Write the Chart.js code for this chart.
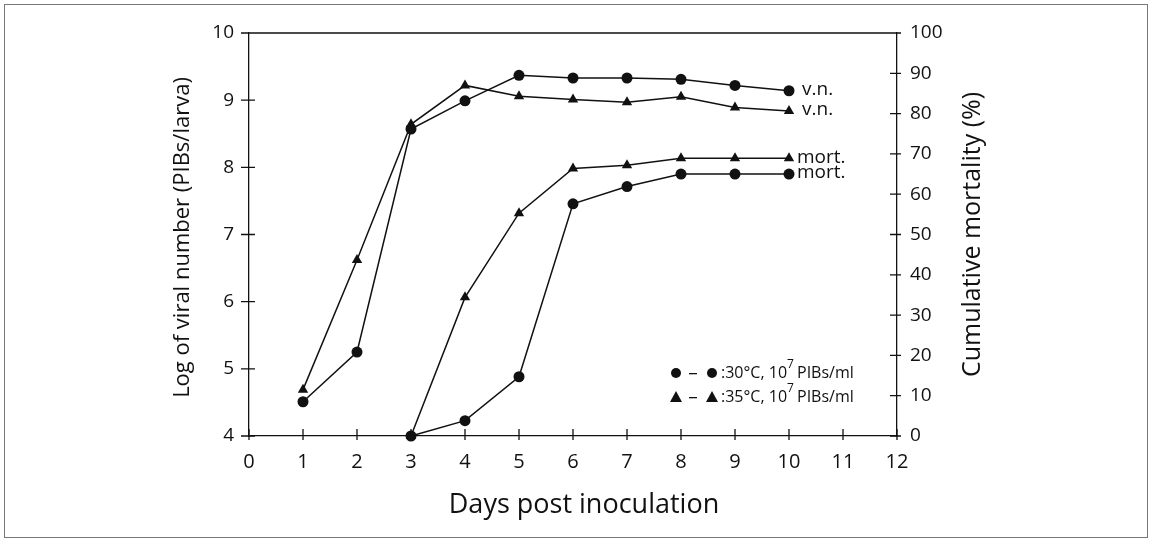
<!DOCTYPE html>
<html>
<head>
<meta charset="utf-8">
<script src="https://cdn.jsdelivr.net/npm/chart.js@4.4.0/dist/chart.umd.min.js"></script>
<style>
    body { margin: 0; background: #fff; }
    #wrap { position: relative; width: 1153px; height: 543px; }
    #frame { position: absolute; left: 4px; top: 4px; width: 1144px; height: 534px; border: 1px solid #777; box-sizing: border-box; pointer-events: none; }
</style>
</head>
<body>
<div id="wrap"><canvas id="chart"></canvas><div id="frame"></div></div>
<script>
// days post inoculation
const days = [1, 2, 3, 4, 5, 6, 7, 8, 9, 10];
const mortDays = [3, 4, 5, 6, 7, 8, 9, 10];

// log of viral number (left axis)
const vn30 = [4.51, 5.25, 8.57, 8.99, 9.37, 9.33, 9.33, 9.31, 9.22, 9.14];
const vn35 = [4.69, 6.62, 8.64, 9.22, 9.06, 9.01, 8.97, 9.05, 8.89, 8.84];

// cumulative mortality % (right axis)
const mort30 = [0, 3.8, 14.7, 57.6, 61.9, 65, 65, 65];
const mort35 = [0, 34.4, 55.3, 66.4, 67.2, 68.9, 68.9, 68.9];

const xTicks = [0, 1, 2, 3, 4, 5, 6, 7, 8, 9, 10, 11, 12];
const FONT = "'Open Sans', 'DejaVu Sans', sans-serif";

const toPoints = (xs, ys) => xs.map((x, i) => ({ x: x, y: ys[i] }));

function series(label, xs, ys, axis, style) {
    return {
        label: label,
        data: toPoints(xs, ys),
        yAxisID: axis,
        borderColor: '#111',
        backgroundColor: '#111',
        borderWidth: 1.5,
        pointStyle: style,
        pointRadius: style === 'triangle' ? 6 : 5.5,
        pointBorderWidth: 0,
        tension: 0,
        clip: false
    };
}

// crossing tick marks, frame top line, titles, end labels and the key
const decor = {
    id: 'decor',
    afterDraw(chart) {
        const ctx = chart.ctx;
        const a = chart.chartArea;
        const x = chart.scales.x, y = chart.scales.y, y2 = chart.scales.y2;
        ctx.save();
        ctx.strokeStyle = '#111';
        ctx.lineWidth = 1.3;
        ctx.beginPath();
        ctx.moveTo(a.left, a.top);
        ctx.lineTo(a.right, a.top);
        xTicks.forEach(v => {
            const px = x.getPixelForValue(v);
            ctx.moveTo(px, a.bottom - 7);
            ctx.lineTo(px, a.bottom + 4);
        });
        for (let v = 4; v <= 10; v++) {
            const py = y.getPixelForValue(v);
            ctx.moveTo(a.left - 8, py);
            ctx.lineTo(a.left + 6, py);
        }
        for (let v = 0; v <= 100; v += 10) {
            const py = y2.getPixelForValue(v);
            ctx.moveTo(a.right - 7, py);
            ctx.lineTo(a.right + 4, py);
        }
        ctx.stroke();

        ctx.fillStyle = '#111';
        ctx.textBaseline = 'middle';

        // axis titles
        ctx.textAlign = 'center';
        ctx.font = '27px ' + FONT;
        ctx.fillText('Days post inoculation', (a.left + a.right) / 2 + 11, 505);
        ctx.font = '22px ' + FONT;
        ctx.save();
        ctx.translate(a.left - 66, (a.top + a.bottom) / 2 + 3);
        ctx.rotate(-Math.PI / 2);
        ctx.fillText('Log of viral number (PIBs/larva)', 0, 0);
        ctx.restore();
        ctx.font = '25px ' + FONT;
        ctx.save();
        ctx.translate(a.right + 76, (a.top + a.bottom) / 2);
        ctx.rotate(-Math.PI / 2);
        ctx.fillText('Cumulative mortality (%)', 0, 0);
        ctx.restore();

        // end-of-line labels
        ctx.font = '19px ' + FONT;
        ctx.textAlign = 'left';
        const last = days.length - 1, lastM = mortDays.length - 1;
        const xe = x.getPixelForValue(10);
        ctx.fillText('v.n.', xe + 13, y.getPixelForValue(vn30[last]) - 1);
        ctx.fillText('v.n.', xe + 13, y.getPixelForValue(vn35[last]) - 1);
        ctx.fillText('mort.', xe + 8, y2.getPixelForValue(mort35[lastM]) - 1);
        ctx.fillText('mort.', xe + 8, y2.getPixelForValue(mort30[lastM]) - 1);

        // key
        const rows = [
            { style: 'circle', temp: ':30°C, 10', y: 373 },
            { style: 'triangle', temp: ':35°C, 10', y: 397 }
        ];
        rows.forEach(r => {
            [676, 712].forEach(cx => {
                ctx.beginPath();
                if (r.style === 'circle') {
                    ctx.arc(cx, r.y, 5, 0, Math.PI * 2);
                } else {
                    ctx.moveTo(cx, r.y - 6);
                    ctx.lineTo(cx + 6, r.y + 5);
                    ctx.lineTo(cx - 6, r.y + 5);
                    ctx.closePath();
                }
                ctx.fill();
            });
            ctx.fillRect(689, r.y, 8, 1.3);
            ctx.font = '16px ' + FONT;
            ctx.fillText(r.temp, 721, r.y);
            const w = ctx.measureText(r.temp).width;
            ctx.font = '12px ' + FONT;
            ctx.fillText('7', 721 + w, r.y - 8);
            ctx.font = '16px ' + FONT;
            ctx.fillText('PIBs/ml', 721 + w + 10, r.y);
        });
        ctx.restore();
    }
};

const ctx = document.getElementById('chart').getContext('2d');
new Chart(ctx, {
    type: 'line',
    data: {
        datasets: [
            series('30°C v.n.', days, vn30, 'y', 'circle'),
            series('35°C v.n.', days, vn35, 'y', 'triangle'),
            series('30°C mort.', mortDays, mort30, 'y2', 'circle'),
            series('35°C mort.', mortDays, mort35, 'y2', 'triangle')
        ]
    },
    options: {
        responsive: true,
        maintainAspectRatio: false,
        animation: false,
        layout: { padding: { top: 33, left: 0, right: 0, bottom: 0 } },
        plugins: {
            legend: { display: false },
            tooltip: { enabled: false }
        },
        scales: {
            x: {
                type: 'linear',
                min: 0,
                max: 12,
                afterBuildTicks: (s) => { s.ticks = xTicks.map(v => ({ value: v })); },
                afterFit: (s) => { s.height = 107; },
                grid: { display: true, drawOnChartArea: false, drawTicks: false },
                border: { color: '#111', width: 1.3 },
                ticks: { color: '#111', padding: 14, font: { size: 20, family: FONT } }
            },
            y: {
                position: 'left',
                min: 4,
                max: 10,
                afterFit: (s) => { s.width = 249; },
                grid: { display: true, drawOnChartArea: false, drawTicks: false },
                border: { color: '#111', width: 1.3 },
                ticks: { stepSize: 1, color: '#111', padding: 15, font: { size: 19, family: FONT } }
            },
            y2: {
                position: 'right',
                min: 0,
                max: 100,
                afterFit: (s) => { s.width = 256; },
                grid: { display: true, drawOnChartArea: false, drawTicks: false },
                border: { color: '#111', width: 1.3 },
                ticks: { stepSize: 10, color: '#111', padding: 13, font: { size: 19, family: FONT } }
            }
        }
    },
    plugins: [decor]
});
</script>
</body>
</html>
